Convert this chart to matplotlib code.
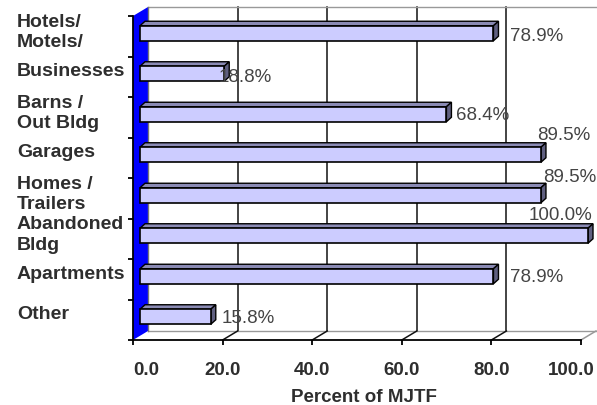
import matplotlib
matplotlib.use("Agg")
import matplotlib.pyplot as plt
from matplotlib.patches import Polygon
from matplotlib.transforms import ScaledTranslation
import numpy as np

plt.rcParams["font.family"] = ["Liberation Sans", "DejaVu Sans"]

# data
categories = ["Hotels/\nMotels/", "Businesses", "Barns /\nOut Bldg", "Garages",
              "Homes /\nTrailers", "Abandoned\nBldg", "Apartments", "Other"]
percent = [78.9, 18.8, 68.4, 89.5, 89.5, 100.0, 78.9, 15.8]
xticks = [0, 20, 40, 60, 80, 100]
xlabel = "Percent of MJTF"

# value-label offsets (pixels, from value/category centre) -- Excel placement
label_off = [(23.5, -3.8), (1, -4), (16.6, -1.8), (2.7, 18.8),
             (8.7, 17.3), (-52, 19.8), (23.5, -1.8), (18, -2.3)]

# colours
C = {
    "ink":   "#2e2e2e",
    "val":   "#444444",
    "front": "#ccccff",
    "top":   "#8a8ab4",
    "side":  "#5f5f80",
    "wall":  "#0000ff",
    "rule":  "#999999",
}

W, H, DPI = 597, 406, 100
AX_L, AX_R, AX_T, AX_B = 133, 581, 17, 341   # front plane, image pixels
n = len(categories)
XMAX = 100.0
sx = (AX_R - AX_L) / XMAX          # px per data unit (x)
sy = (AX_B - AX_T) / n             # px per category (y)


def dx(px):
    return px / sx


def dy(px):
    # upward on screen = smaller y (axis inverted)
    return -px / sy


fig = plt.figure(figsize=(W / DPI, H / DPI), dpi=DPI, facecolor="white")
ax = fig.add_axes([AX_L / W, (H - AX_B) / H, (AX_R - AX_L) / W, (AX_B - AX_T) / H])
ax.set_xlim(0, XMAX)
ax.set_ylim(n - 0.5, -0.5)
ax.patch.set_alpha(0)

# 3D depth of the plot box
Dx, Dy = dx(15), dy(9)
y_top, y_bot = -0.5, n - 0.5

# blue side wall
ax.add_patch(Polygon([(0, y_bot), (0, y_top), (Dx, y_top + Dy), (Dx, y_bot + Dy)],
                     closed=True, facecolor=C["wall"], edgecolor="none",
                     zorder=1, clip_on=False))
ax.plot([Dx, Dx], [y_top + Dy, y_bot + Dy], color="#777777", lw=1.0,
        zorder=1.1, clip_on=False)

# back wall gridlines + borders
for xt in xticks[1:-1]:
    ax.plot([xt + Dx, xt + Dx], [y_top + Dy, y_bot + Dy], color="#111111",
            lw=1.1, zorder=1, clip_on=False)
ax.plot([Dx, XMAX + Dx], [y_top + Dy, y_top + Dy], color=C["rule"], lw=1.0,
        zorder=1, clip_on=False)
ax.plot([Dx, XMAX + Dx], [y_bot + Dy, y_bot + Dy], color=C["rule"], lw=1.0,
        zorder=1, clip_on=False)
for xt in xticks[1:]:
    col = "#111111" if xt < XMAX else C["rule"]
    ax.plot([xt, xt + Dx], [y_bot, y_bot + Dy], color=col, lw=1.1,
            zorder=1, clip_on=False)

# bars: front face via barh, then top and side faces
bx, by = dx(7), dy(3)
bh = 15 / sy
bdx, bdy = dx(5), dy(4.5)
ypos = np.arange(n) + by
bars = ax.barh(ypos, percent, left=bx, height=bh, color=C["front"],
               edgecolor="black", linewidth=1.2, zorder=3)
for b in bars:
    b.set_clip_on(False)
for yc, v in zip(ypos, percent):
    yt, yb = yc - bh / 2, yc + bh / 2
    xe = bx + v
    ax.add_patch(Polygon([(bx, yt), (xe, yt), (xe + bdx, yt + bdy), (bx + bdx, yt + bdy)],
                         closed=True, facecolor=C["top"], edgecolor="black",
                         lw=1.0, zorder=2.9, clip_on=False))
    ax.add_patch(Polygon([(xe, yt), (xe, yb), (xe + bdx, yb + bdy), (xe + bdx, yt + bdy)],
                         closed=True, facecolor=C["side"], edgecolor="black",
                         lw=1.0, zorder=2.9, clip_on=False))

# value labels
for i, (v, (ox, oy)) in enumerate(zip(percent, label_off)):
    ax.annotate(f"{v:.1f}%", xy=(v, i), xytext=(ox, oy), textcoords="offset pixels",
                ha="left", va="baseline", fontsize=13.5, color=C["val"],
                zorder=5, annotation_clip=False)

# axes frame
for s in ["top", "right"]:
    ax.spines[s].set_visible(False)
for s in ["left", "bottom"]:
    ax.spines[s].set_color("black")
    ax.spines[s].set_linewidth(1.3)
    ax.spines[s].set_zorder(4)

ax.set_xticks(xticks)
ax.set_xticklabels([f"{t:.1f}" for t in xticks], fontsize=13.5,
                   fontweight="bold", color=C["ink"])
ax.tick_params(axis="x", direction="out", length=3.6, width=1.3, pad=11.5)
tl = ax.get_xticklabels()
tl[0].set_ha("left")
tl[-1].set_transform(tl[-1].get_transform() + ScaledTranslation(-0.1, 0, fig.dpi_scale_trans))

ax.set_yticks(np.arange(-0.5, n, 1.0), minor=True)
ax.set_yticks([])
ax.tick_params(axis="y", which="minor", direction="out", length=3.6, width=1.3)

# category labels, left aligned (baseline of the last line)
for i, cat in enumerate(categories):
    two = "\n" in cat
    ax.text(dx(17 - AX_L), i + dy(-10 if two else 1.5), cat, ha="left",
            va="baseline", fontsize=14, fontweight="bold", color=C["ink"],
            linespacing=1.28, clip_on=False)

fig.text(364 / W, (H - 402) / H, xlabel, ha="center", va="baseline",
         fontsize=13.5, fontweight="bold", color=C["ink"])

fig.savefig("out.png", dpi=DPI, facecolor="white")
